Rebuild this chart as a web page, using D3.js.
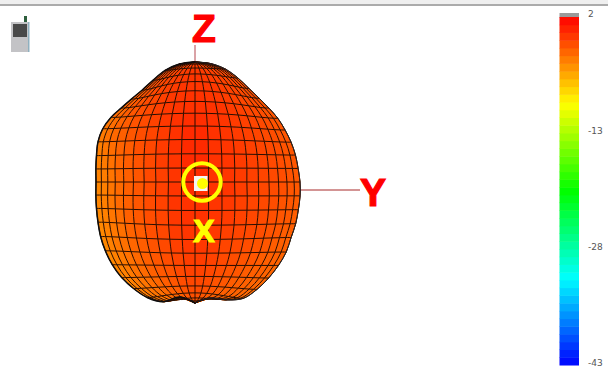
<!DOCTYPE html>
<html>
<head>
<meta charset="utf-8">
<script src="https://cdn.jsdelivr.net/npm/d3@7"></script>
<style>
  html, body { margin: 0; padding: 0; background: #fff; overflow: hidden; }
  svg { display: block; }
</style>
</head>
<body>
<div id="vizcontainer"></div>
<script>
const gainTicks = [2, -13, -28, -43];
const colorStops = [2, -9.25, -20.5, -31.75, -43];
const colorNames = ['#ff0000', '#ffff00', '#00ff00', '#00ffff', '#0000ff'];

// polar angle from +Z down to -Z, and azimuth from left edge through X to right edge
const theta = [0, 7.5, 15, 22.5, 30, 37.5, 45, 52.5, 60, 67.5, 75, 82.5, 90, 97.5, 105, 112.5, 120, 127.5, 135, 142.5, 150, 157.5, 165, 172.5, 180];
const phi = [-90, -81, -72, -63, -54, -45, -36, -27, -18, -9, 0, 9, 18, 27, 36, 45, 54, 63, 72, 81, 90];

// pattern radius read along the left edge, the middle and the right edge
const radiusLeft = [120, 119, 115.5, 110, 106, 104.5, 104.5, 106, 106.5, 105, 102, 100, 99, 100, 102, 105, 109, 113, 117, 120.5, 123, 125, 124, 116, 121];
const radiusMid = [120, 119, 118, 117, 116, 115, 114, 113, 112, 111, 109, 107, 105, 107, 110, 113, 115, 117, 118, 119, 120, 120, 120, 120, 121];
const radiusRight = [120, 119.5, 117, 112.5, 108, 105.5, 104.5, 104.5, 104, 104, 104, 104, 105, 106, 107, 109, 111, 115, 118, 121, 124, 126, 122, 117, 121];

// gain in dB per mesh cell, rows top to bottom, columns left to right
const gain = [
  [-1.2, -1.2, -1.1, -1.1, -1.0, -1.0, -1.0, -0.9, -0.9, -0.8, -0.8, -0.9, -0.9, -1.0, -1.0, -1.0, -1.1, -1.1, -1.2, -1.2],
  [-1.3, -1.3, -1.2, -1.1, -1.0, -1.0, -0.9, -0.8, -0.7, -0.7, -0.7, -0.7, -0.8, -0.9, -1.0, -1.0, -1.1, -1.2, -1.2, -1.3],
  [-1.5, -1.4, -1.3, -1.2, -1.1, -1.0, -0.8, -0.7, -0.6, -0.5, -0.5, -0.6, -0.7, -0.8, -0.9, -1.0, -1.1, -1.2, -1.3, -1.4],
  [-1.8, -1.6, -1.5, -1.3, -1.1, -1.0, -0.8, -0.6, -0.5, -0.4, -0.4, -0.5, -0.6, -0.8, -0.9, -1.0, -1.1, -1.2, -1.4, -1.5],
  [-2.2, -2.0, -1.7, -1.5, -1.2, -1.0, -0.8, -0.6, -0.4, -0.3, -0.3, -0.4, -0.5, -0.7, -0.9, -1.0, -1.2, -1.3, -1.5, -1.6],
  [-2.5, -2.2, -1.9, -1.6, -1.3, -1.1, -0.8, -0.5, -0.3, -0.2, -0.2, -0.3, -0.5, -0.7, -0.9, -1.1, -1.2, -1.4, -1.5, -1.7],
  [-2.8, -2.5, -2.1, -1.8, -1.5, -1.2, -0.8, -0.5, -0.3, -0.1, -0.1, -0.2, -0.4, -0.6, -0.8, -1.0, -1.2, -1.4, -1.6, -1.8],
  [-3.1, -2.8, -2.4, -2.0, -1.6, -1.3, -0.9, -0.5, -0.2, 0.0, 0.0, -0.2, -0.4, -0.6, -0.8, -1.0, -1.2, -1.4, -1.6, -1.8],
  [-3.4, -3.0, -2.6, -2.2, -1.8, -1.4, -1.0, -0.6, -0.2, 0.1, 0.1, -0.1, -0.3, -0.6, -0.8, -1.0, -1.2, -1.4, -1.6, -1.8],
  [-3.6, -3.2, -2.8, -2.4, -2.0, -1.5, -1.1, -0.6, -0.2, 0.1, 0.1, -0.1, -0.3, -0.6, -0.8, -1.0, -1.2, -1.4, -1.6, -1.8],
  [-3.7, -3.4, -3.0, -2.5, -2.1, -1.6, -1.2, -0.7, -0.3, 0.1, 0.1, -0.1, -0.3, -0.6, -0.8, -1.0, -1.2, -1.4, -1.6, -1.8],
  [-3.8, -3.5, -3.1, -2.6, -2.2, -1.7, -1.2, -0.8, -0.3, 0.1, 0.1, -0.1, -0.4, -0.6, -0.8, -1.0, -1.2, -1.4, -1.6, -1.9],
  [-3.9, -3.6, -3.1, -2.7, -2.2, -1.8, -1.3, -0.8, -0.4, 0.0, 0.0, -0.2, -0.4, -0.7, -0.9, -1.1, -1.3, -1.5, -1.7, -1.9],
  [-3.9, -3.6, -3.2, -2.7, -2.3, -1.8, -1.3, -0.9, -0.4, -0.1, -0.1, -0.3, -0.5, -0.8, -1.0, -1.2, -1.4, -1.6, -1.8, -2.0],
  [-4.0, -3.7, -3.2, -2.8, -2.3, -1.9, -1.4, -1.0, -0.5, -0.2, -0.2, -0.4, -0.6, -0.9, -1.1, -1.3, -1.5, -1.7, -1.9, -2.1],
  [-4.0, -3.7, -3.3, -2.9, -2.4, -2.0, -1.5, -1.1, -0.6, -0.3, -0.3, -0.5, -0.8, -1.0, -1.2, -1.4, -1.6, -1.8, -2.0, -2.2],
  [-4.0, -3.7, -3.3, -2.9, -2.5, -2.1, -1.6, -1.2, -0.8, -0.5, -0.5, -0.7, -1.0, -1.2, -1.4, -1.6, -1.8, -2.0, -2.2, -2.3],
  [-4.0, -3.7, -3.4, -3.0, -2.6, -2.2, -1.8, -1.4, -1.0, -0.7, -0.7, -0.9, -1.2, -1.4, -1.6, -1.8, -2.0, -2.2, -2.3, -2.4],
  [-3.9, -3.7, -3.4, -3.0, -2.7, -2.3, -1.9, -1.6, -1.2, -0.9, -0.9, -1.1, -1.4, -1.6, -1.8, -2.0, -2.2, -2.3, -2.4, -2.5],
  [-3.9, -3.7, -3.4, -3.1, -2.8, -2.5, -2.1, -1.8, -1.4, -1.1, -1.1, -1.3, -1.6, -1.8, -2.0, -2.2, -2.3, -2.4, -2.5, -2.6],
  [-3.8, -3.6, -3.4, -3.1, -2.9, -2.6, -2.3, -2.0, -1.6, -1.3, -1.3, -1.5, -1.8, -2.0, -2.2, -2.3, -2.4, -2.5, -2.6, -2.7],
  [-3.7, -3.6, -3.4, -3.2, -3.0, -2.7, -2.4, -2.1, -1.8, -1.5, -1.5, -1.7, -2.0, -2.2, -2.3, -2.4, -2.5, -2.6, -2.7, -2.8],
  [-3.7, -3.5, -3.4, -3.2, -3.0, -2.8, -2.6, -2.3, -2.0, -1.7, -1.7, -1.9, -2.1, -2.3, -2.4, -2.5, -2.6, -2.7, -2.8, -2.8],
  [-3.6, -3.5, -3.3, -3.2, -3.0, -2.9, -2.7, -2.5, -2.2, -2.0, -2.0, -2.1, -2.3, -2.4, -2.5, -2.6, -2.7, -2.7, -2.8, -2.8]
];

const width = 608, height = 370;

const svg = d3.select('#vizcontainer').append('svg')
  .attr('width', width)
  .attr('height', height);

// the reference is a soft screenshot
const defs = svg.append('defs');
defs.append('filter').attr('id', 'soft')
  .append('feGaussianBlur').attr('stdDeviation', 0.4);

const color = d3.scaleLinear().domain(colorStops).range(colorNames);

const x = d3.scaleLinear().domain([-100, 100]).range([95, 295]);
const y = d3.scaleLinear().domain([-100, 100]).range([282, 82]);
const legendY = d3.scaleLinear().domain([2, -43]).range([14, 363]);
const barY = d3.scaleLinear().domain([2, -43]).range([17, 365]);

const rad = d => d * Math.PI / 180;

// project one mesh node, middle radius blended out to the edge radius
function node(i, j) {
  const edge = phi[j] < 0 ? radiusLeft[i] : radiusRight[i];
  const s = Math.sin(rad(phi[j]));
  const w = s * s;
  const r = radiusMid[i] * (1 - w) + edge * w;
  const across = 0.5 * s + 0.5 * phi[j] / 90;
  return [
    x(r * Math.sin(rad(theta[i])) * across),
    y(r * Math.cos(rad(theta[i])))
  ];
}

const line = d3.line();
const smooth = d3.line().curve(d3.curveCatmullRom);

// window rule at the top
svg.append('rect').attr('width', width).attr('height', 4).attr('fill', '#efefef');
svg.append('rect').attr('y', 4).attr('width', width).attr('height', 2).attr('fill', '#ababab');

// phone icon
const phone = svg.append('g').attr('class', 'phone').attr('filter', 'url(#soft)');
phone.append('rect').attr('x', 24).attr('y', 16).attr('width', 3).attr('height', 6).attr('fill', '#2f5f3c');
phone.append('rect').attr('x', 11).attr('y', 22).attr('width', 18).attr('height', 30).attr('fill', '#c3c3c6');
phone.append('rect').attr('x', 28).attr('y', 22).attr('width', 1.5).attr('height', 30).attr('fill', '#8fb0bf');
phone.append('rect').attr('x', 13).attr('y', 24).attr('width', 14).attr('height', 13).attr('fill', '#48484a');

// axis stubs
svg.append('line').attr('x1', 195).attr('x2', 195).attr('y1', 45).attr('y2', 63).attr('stroke', '#b5474f').attr('stroke-width', 1);
svg.append('line').attr('x1', 300).attr('x2', 360).attr('y1', 190).attr('y2', 190).attr('stroke', '#a82a2a').attr('stroke-width', 1);

// mesh cells
const cells = [];
gain.forEach((row, i) => row.forEach((g, j) => cells.push({ i, j, g })));

const mesh = svg.append('g').attr('class', 'mesh').attr('filter', 'url(#soft)');
mesh.selectAll('path.cell')
  .data(cells)
  .join('path')
  .attr('class', 'cell')
  .attr('d', d => line([node(d.i, d.j), node(d.i, d.j + 1), node(d.i + 1, d.j + 1), node(d.i + 1, d.j)]) + 'Z')
  .attr('fill', d => color(d.g))
  .attr('stroke', d => color(d.g))
  .attr('stroke-width', 0.8);

// grid lines
const rowLines = theta.map((t, i) => phi.map((p, j) => node(i, j)));
const colLines = phi.map((p, j) => theta.map((t, i) => node(i, j)));
mesh.selectAll('path.grid')
  .data(rowLines.concat(colLines))
  .join('path')
  .attr('class', 'grid')
  .attr('d', smooth)
  .attr('fill', 'none')
  .attr('stroke', '#2a0e06')
  .attr('stroke-width', 1);

// darker outline, heavier down the left side
mesh.append('path')
  .attr('d', smooth(theta.map((t, i) => node(i, 0))))
  .attr('fill', 'none').attr('stroke', '#111').attr('stroke-width', 1.5);
mesh.append('path')
  .attr('d', smooth(theta.map((t, i) => node(i, phi.length - 1))))
  .attr('fill', 'none').attr('stroke', '#222').attr('stroke-width', 1);

// X axis marker
svg.append('rect').attr('x', 194).attr('y', 176).attr('width', 13.5).attr('height', 15).attr('fill', '#f4f4f4');
svg.append('circle').attr('cx', 202).attr('cy', 182).attr('r', 18.7).attr('fill', 'none').attr('stroke', '#ffff00').attr('stroke-width', 4);
svg.append('circle').attr('cx', 202.5).attr('cy', 183.5).attr('r', 5.5).attr('fill', '#ffff00');

const label = (t, px, py, size, fill) => svg.append('text')
  .attr('x', px).attr('y', py)
  .attr('text-anchor', 'middle')
  .attr('font-family', '"Liberation Sans", sans-serif')
  .attr('font-weight', 'bold')
  .attr('font-size', size)
  .attr('fill', fill)
  .attr('stroke', fill)
  .attr('stroke-width', 1.2)
  .text(t);

label('Z', 204, 42, 39, '#ff0000');
label('Y', 373, 206, 39, '#ff0000');
label('X', 204, 242, 32, '#ffff00');

// colour bar, 1 dB bands
const bands = d3.range(-43, 2);
const legend = svg.append('g').attr('class', 'legend').attr('filter', 'url(#soft)');
legend.append('rect')
  .attr('x', 559.5).attr('y', 13)
  .attr('width', 19.5).attr('height', 5)
  .attr('fill', '#9a9a9a');
legend.selectAll('rect.band')
  .data(bands)
  .join('rect')
  .attr('class', 'band')
  .attr('x', 559.5)
  .attr('y', d => barY(d + 1))
  .attr('width', 19.5)
  .attr('height', d => barY(d) - barY(d + 1) + 0.5)
  .attr('fill', d => color(d + 0.5));

const axis = svg.append('g')
  .attr('transform', 'translate(580,0)')
  .call(d3.axisRight(legendY).tickValues(gainTicks).tickSize(0).tickPadding(8).tickFormat(d => `${d}`));
axis.select('.domain').remove();
axis.selectAll('text')
  .attr('font-family', '"DejaVu Sans", sans-serif')
  .attr('font-size', 9)
  .attr('fill', '#555');
</script>
</body>
</html>
